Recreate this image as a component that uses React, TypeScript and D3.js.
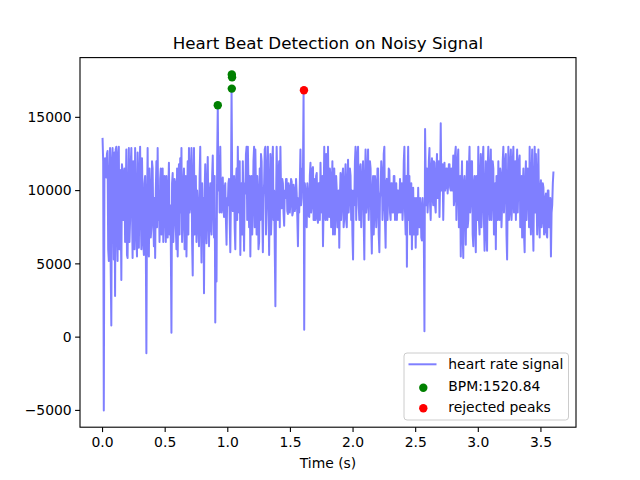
import { useEffect } from "react";
import * as d3 from "d3";

// ── Data (signal values in thousands, one sample every 5 ms) ──
const SAMPLE_DT = 0.005;

const SIGNAL_K: number[] = [
  13.6, 12.0, -5.0, 10.8, 12.2, 11.5, 10.9, 12.5, 12.7, 6.0, 5.2, 11.0, 12.9, 4.8, 0.8, 12.0, 12.9, 9.0, 5.3, 12.6,
  2.8, 12.8, 13.0, 7.5, 5.2, 12.5, 13.0, 6.0, 11.4, 9.0, 3.9, 11.8, 11.2, 8.0, 10.5, 11.5, 6.5, 9.5, 12.8, 5.6,
  5.4, 10.0, 12.9, 6.5, 8.0, 11.8, 12.9, 9.0, 5.4, 12.0, 11.5, 6.0, 12.9, 10.0, 7.0, 5.5, 12.6, 9.5, 6.1, 11.0,
  13.0, 8.5, 6.0, 12.2, 9.5, 6.5, 5.6, 10.5, 11.0, 7.0, -1.1, 9.0, 12.9, 6.5, 5.5, 11.5, 10.0, 6.8, 7.5, 12.0,
  11.5, 8.0, 6.2, 9.5, 5.4, 10.0, 12.0, 7.5, 12.9, 8.0, 9.5, 6.5, 10.8, 11.5, 7.0, 8.5, 11.5, 6.5, 9.8, 11.0,
  8.5, 6.5, 11.0, 9.0, 6.8, 10.0, 11.9, 7.0, 9.0, 6.4, 0.3, 10.5, 11.2, 6.5, 8.0, 10.8, 10.5, 7.5, 6.0, 11.5,
  5.5, 9.5, 11.8, 7.0, 12.2, 8.5, 12.9, 6.5, 8.0, 10.5, 11.5, 6.0, 7.5, 11.0, 5.5, 9.0, 12.0, 7.0, 12.9, 8.5,
  9.0, 11.5, 12.9, 6.5, 4.2, 11.0, 12.9, 7.0, 8.5, 11.0, 6.5, 10.0, 9.0, 7.5, 6.2, 11.0, 13.0, 8.0, 5.1, 10.5,
  7.0, 9.5, 3.0, 10.0, 11.8, 7.5, 6.4, 10.5, 12.3, 8.0, 6.2, 9.5, 10.5, 7.5, 7.0, 11.0, 12.4, 9.0, 6.8, 11.0,
  1.0, 8.0, 3.8, 12.0, 15.8, 10.0, 12.4, 8.5, 13.0, 9.5, 8.5, 10.5, 10.9, 8.8, 8.2, 10.2, 10.5, 8.0, 6.3, 9.5,
  9.0, 10.5, 10.8, 8.0, 5.8, 9.5, 17.0, 10.5, 8.6, 10.0, 11.0, 7.5, 6.0, 10.5, 11.5, 8.0, 13.0, 9.5, 8.5, 12.0,
  5.6, 9.5, 10.5, 7.0, 12.0, 9.0, 5.9, 10.5, 9.8, 12.5, 13.0, 8.0, 13.0, 10.5, 7.5, 11.0, 5.5, 9.5, 11.0, 7.0,
  9.0, 12.0, 13.0, 7.5, 12.8, 10.0, 7.0, 11.0, 10.0, 6.0, 6.5, 11.5, 8.0, 12.5, 12.0, 8.5, 5.8, 9.5, 10.5, 12.8,
  13.0, 7.0, 9.0, 11.5, 13.0, 9.0, 5.6, 10.0, 12.5, 7.0, 8.5, 12.0, 13.0, 8.0, 10.0, 6.0, 2.1, 9.0, 13.0, 10.5,
  8.0, 11.0, 12.0, 7.5, 13.0, 10.0, 8.8, 10.8, 10.5, 8.5, 7.6, 10.0, 9.5, 10.8, 10.8, 8.6, 8.4, 10.5, 10.2, 8.5,
  9.2, 10.8, 10.6, 8.3, 8.5, 10.4, 10.0, 8.6, 9.0, 10.8, 9.8, 8.2, 6.2, 9.5, 8.5, 10.5, 12.8, 9.0, 9.5, 11.5,
  11.0, 16.85, 0.5, 10.5, 10.0, 8.0, 7.5, 10.5, 9.8, 8.3, 8.2, 11.0, 11.9, 8.5, 9.0, 11.5, 11.6, 8.0, 8.0, 10.8,
  8.0, 11.0, 11.2, 8.2, 7.8, 10.5, 10.5, 8.0, 11.9, 9.5, 8.5, 11.0, 6.2, 9.0, 13.0, 8.5, 8.0, 12.5, 10.5, 8.0,
  13.0, 9.5, 8.2, 11.5, 11.0, 7.5, 9.5, 12.0, 7.0, 10.5, 11.5, 7.0, 8.5, 11.0, 10.0, 7.5, 7.5, 10.0, 6.1, 9.5,
  11.2, 8.0, 9.0, 11.0, 11.5, 7.5, 8.2, 10.5, 11.8, 8.0, 7.5, 10.5, 12.1, 8.5, 9.5, 11.5, 11.0, 8.0, 10.0, 7.0,
  5.3, 10.0, 9.0, 12.0, 13.0, 8.0, 10.5, 12.5, 13.0, 9.0, 8.0, 11.5, 11.8, 7.5, 9.5, 11.0, 12.0, 8.0, 5.3, 10.5,
  12.8, 8.5, 9.0, 11.5, 12.8, 8.0, 10.0, 12.0, 11.5, 7.5, 5.7, 10.0, 11.0, 7.0, 8.5, 11.0, 10.5, 7.5, 8.8, 11.5,
  11.5, 7.0, 5.8, 9.5, 10.0, 12.0, 11.2, 8.0, 9.0, 12.5, 13.0, 8.0, 6.1, 10.5, 10.8, 8.0, 9.5, 11.5, 11.4, 8.5,
  8.0, 10.5, 10.5, 8.5, 8.5, 11.0, 11.0, 8.0, 9.2, 10.5, 8.0, 10.0, 10.0, 8.5, 9.0, 10.8, 8.5, 9.8, 10.5, 8.0,
  9.0, 12.0, 13.0, 8.5, 7.0, 11.0, 4.8, 10.0, 13.0, 8.0, 11.0, 7.0, 8.5, 10.5, 6.0, 9.0, 10.2, 7.0, 7.5, 9.5,
  6.1, 9.0, 9.5, 7.0, 10.2, 8.0, 7.5, 9.5, 9.0, 6.8, 6.6, 9.5, 8.5, 7.0, 0.4, 14.2, 11.0, 9.0, 11.5, 8.5,
  9.5, 12.0, 12.9, 9.0, 8.0, 11.5, 12.2, 9.5, 9.0, 12.0, 11.9, 9.0, 8.5, 11.0, 12.5, 9.5, 9.5, 12.0, 8.2, 10.5,
  14.6, 10.0, 10.5, 11.8, 8.0, 10.5, 11.9, 10.0, 10.3, 11.5, 11.5, 9.8, 10.5, 11.8, 11.8, 10.2, 10.0, 11.5, 11.2, 10.0,
  12.4, 9.0, 9.5, 12.5, 13.0, 8.0, 10.0, 12.0, 12.8, 7.5, 8.5, 11.0, 5.5, 10.0, 12.0, 7.0, 5.4, 10.5, 11.0, 8.5,
  6.3, 10.0, 12.0, 7.5, 8.0, 11.5, 13.0, 8.5, 9.5, 12.0, 12.0, 7.0, 6.2, 10.5, 11.0, 7.5, 5.8, 11.0, 10.5, 8.0,
  13.0, 8.0, 7.0, 11.0, 12.5, 7.5, 9.0, 12.0, 13.0, 8.0, 5.9, 10.0, 12.0, 7.0, 5.9, 11.5, 13.0, 9.0, 8.0, 11.5,
  12.8, 8.0, 9.5, 12.0, 11.5, 7.0, 7.5, 10.5, 6.0, 11.0, 10.5, 8.0, 12.0, 9.0, 8.0, 11.5, 11.0, 7.5, 9.0, 12.0,
  13.0, 8.5, 10.0, 12.0, 12.5, 7.0, 5.3, 10.0, 13.0, 8.0, 8.5, 12.0, 12.8, 8.0, 9.0, 12.0, 13.0, 8.5, 10.0, 12.0,
  8.0, 11.0, 12.8, 8.5, 10.5, 12.0, 12.4, 7.5, 9.0, 11.0, 6.8, 10.0, 11.5, 7.0, 5.8, 10.5, 12.0, 8.0, 9.5, 11.5,
  11.0, 7.5, 13.0, 9.0, 7.0, 11.0, 12.8, 8.0, 5.9, 10.5, 13.0, 8.5, 12.5, 9.5, 7.0, 11.0, 12.8, 8.0, 6.8, 10.0,
  10.7, 7.5, 8.0, 10.5, 10.2, 7.0, 7.2, 9.5, 9.8, 7.0, 6.8, 10.0, 10.0, 7.5, 7.5, 9.5, 5.5, 8.5, 9.0, 10.5,
  11.3,
];

// accepted peaks (green)
const PEAK_T = [0.92, 1.032, 1.034, 1.032];
const PEAK_V = [15820, 17930, 17730, 16960];

// rejected peaks (red)
const REJ_T = [1.608];
const REJ_V = [16850];

const X_TICKS = [0, 0.5, 1, 1.5, 2, 2.5, 3, 3.5];
const Y_TICKS = [-5000, 0, 5000, 10000, 15000];

const LEGEND_LABELS = ["heart rate signal", "BPM:1520.84", "rejected peaks"];

// ── Layout (matplotlib defaults for 640x480) ──
const W = 640;
const H = 480;
const L = 80;
const R = 576;
const T = 57.6;
const B = 427.2;

const FONT = "'DejaVu Sans', sans-serif";

export default function App() {
  useEffect(() => {
    document.body.style.margin = "0";
  }, []);

  const signal = SIGNAL_K.map((v, i) => ({ t: i * SAMPLE_DT, v: v * 1000 }));

  const allT = [...signal.map((d) => d.t), ...PEAK_T, ...REJ_T];
  const allV = [...signal.map((d) => d.v), ...PEAK_V, ...REJ_V];
  const [tMin, tMax] = d3.extent(allT) as [number, number];
  const [vMin, vMax] = d3.extent(allV) as [number, number];
  const tPad = (tMax - tMin) * 0.05;
  const vPad = (vMax - vMin) * 0.05;

  const x = d3.scaleLinear().domain([tMin - tPad, tMax + tPad]).range([L, R]);
  const y = d3.scaleLinear().domain([vMin - vPad, vMax + vPad]).range([B, T]);

  const line = d3
    .line<{ t: number; v: number }>()
    .x((d) => x(d.t))
    .y((d) => y(d.v));

  const fmtY = (v: number) => (v < 0 ? "\u2212" + Math.abs(v) : String(v));

  // legend box
  const lgX = 404;
  const lgY = 353;
  const lgW = 164.5;
  const lgH = 67;

  return (
    <svg width={W} height={H} style={{ display: "block", background: "#fff" }}>
      <rect x={0} y={0} width={W} height={H} fill="#fff" />
      <defs>
        <clipPath id="plot-clip">
          <rect x={L} y={T} width={R - L} height={B - T} />
        </clipPath>
      </defs>

      <g clipPath="url(#plot-clip)">
        <path
          d={line(signal) ?? ""}
          fill="none"
          stroke="#0000ff"
          strokeOpacity={0.5}
          strokeWidth={2}
          strokeLinejoin="round"
        />
        {PEAK_T.map((t, i) => (
          <circle key={"p" + i} cx={x(t)} cy={y(PEAK_V[i])} r={4.2} fill="#008000" />
        ))}
        {REJ_T.map((t, i) => (
          <circle key={"r" + i} cx={x(t)} cy={y(REJ_V[i])} r={4.2} fill="#ff0000" />
        ))}
      </g>

      {/* axes frame */}
      <rect x={L} y={T} width={R - L} height={B - T} fill="none" stroke="#000" strokeWidth={1.1} />

      {/* x ticks */}
      {X_TICKS.map((t) => (
        <g key={"xt" + t} transform={`translate(${x(t)},${B})`}>
          <line y1={0} y2={4.9} stroke="#000" strokeWidth={1.1} />
          <text y={19.5} textAnchor="middle" fontFamily={FONT} fontSize={13.9} fill="#000">
            {t.toFixed(1)}
          </text>
        </g>
      ))}

      {/* y ticks */}
      {Y_TICKS.map((v) => (
        <g key={"yt" + v} transform={`translate(${L},${y(v)})`}>
          <line x1={0} x2={-4.9} stroke="#000" strokeWidth={1.1} />
          <text x={-8.3} dy="0.35em" textAnchor="end" fontFamily={FONT} fontSize={13.9} fill="#000">
            {fmtY(v)}
          </text>
        </g>
      ))}

      <text x={(L + R) / 2} y={468} textAnchor="middle" fontFamily={FONT} fontSize={13.9} fill="#000">
        Time (s)
      </text>
      <text x={(L + R) / 2} y={49} textAnchor="middle" fontFamily={FONT} fontSize={16.7} fill="#000">
        Heart Beat Detection on Noisy Signal
      </text>

      {/* legend */}
      <rect
        x={lgX}
        y={lgY}
        width={lgW}
        height={lgH}
        rx={3}
        fill="#fff"
        fillOpacity={0.8}
        stroke="#cccccc"
        strokeWidth={1}
      />
      <line x1={408.5} x2={436.5} y1={364.3} y2={364.3} stroke="#0000ff" strokeOpacity={0.5} strokeWidth={2} />
      <circle cx={423.3} cy={387.7} r={4.2} fill="#008000" />
      <circle cx={423.3} cy={408.3} r={4.2} fill="#ff0000" />
      {LEGEND_LABELS.map((lbl, i) => (
        <text
          key={lbl}
          x={448.3}
          y={364.3 + i * 21.5}
          dy="0.35em"
          fontFamily={FONT}
          fontSize={13.9}
          fill="#000"
        >
          {lbl}
        </text>
      ))}
    </svg>
  );
}
